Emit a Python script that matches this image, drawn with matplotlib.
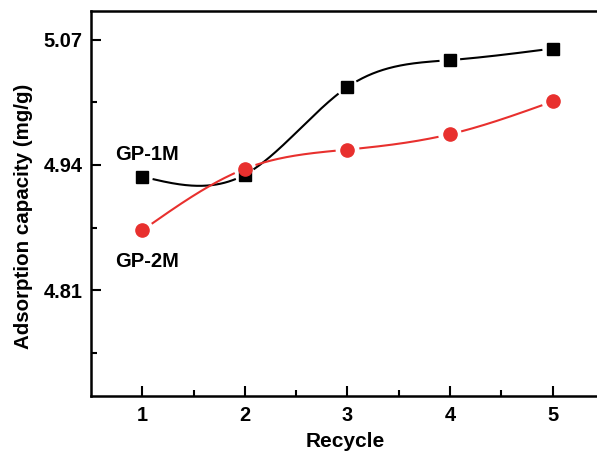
import numpy as np
import matplotlib
matplotlib.use("Agg")
import matplotlib.pyplot as plt

# Adsorption capacity per recycle run
recycle = [1, 2, 3, 4, 5]
gp_1m = [4.928, 4.930, 5.021, 5.049, 5.061]
gp_2m = [4.872, 4.936, 4.956, 4.972, 5.006]

plt.rcParams['font.family'] = ['Liberation Sans', 'DejaVu Sans']
plt.rcParams['font.weight'] = 'bold'


def natural_spline(x, y, n=400):
    # plain natural cubic spline, no scipy needed
    x = np.asarray(x, float)
    y = np.asarray(y, float)
    k = len(x)
    h = np.diff(x)
    A = np.zeros((k, k))
    b = np.zeros(k)
    A[0, 0] = A[-1, -1] = 1
    for i in range(1, k - 1):
        A[i, i - 1] = h[i - 1]
        A[i, i] = 2 * (h[i - 1] + h[i])
        A[i, i + 1] = h[i]
        b[i] = 6 * ((y[i + 1] - y[i]) / h[i] - (y[i] - y[i - 1]) / h[i - 1])
    M = np.linalg.solve(A, b)
    xs = np.linspace(x[0], x[-1], n)
    idx = np.clip(np.searchsorted(x, xs) - 1, 0, k - 2)
    x0, x1 = x[idx], x[idx + 1]
    hh = x1 - x0
    t0, t1 = x1 - xs, xs - x0
    ys = (M[idx] * t0 ** 3 + M[idx + 1] * t1 ** 3) / (6 * hh) \
        + (y[idx] / hh - M[idx] * hh / 6) * t0 \
        + (y[idx + 1] / hh - M[idx + 1] * hh / 6) * t1
    return xs, ys


def gapped(ax, xs, ys, px, py, radius):
    # break the curve near each marker, Origin style
    pts = ax.transData.transform(np.column_stack([xs, ys]))
    mk = ax.transData.transform(np.column_stack([px, py]))
    d = np.min(np.hypot(pts[:, None, 0] - mk[None, :, 0],
                        pts[:, None, 1] - mk[None, :, 1]), axis=1)
    ys = ys.copy()
    ys[d < radius] = np.nan
    return xs, ys


fig = plt.figure(figsize=(5.97, 4.54), dpi=100)
ax = fig.add_axes([0.1524, 0.1278, 0.8593, 0.848])
ax.set_xlim(0.5, 5.5)
ax.set_ylim(4.70, 5.10)

red = '#e8302e'
xs, ys = natural_spline(recycle, gp_1m)
xs, ys = gapped(ax, xs, ys, recycle, gp_1m, 11)
ax.plot(xs, ys, color='black', lw=1.5)
ax.plot(recycle, gp_1m, 's', color='black', ms=8, mec='black')

xs, ys = natural_spline(recycle, gp_2m)
xs, ys = gapped(ax, xs, ys, recycle, gp_2m, 12)
ax.plot(xs, ys, color=red, lw=1.5)
ax.plot(recycle, gp_2m, 'o', color=red, ms=9.5, mec=red)

ax.text(0.735, 4.9452, 'GP-1M', fontsize=14.5, fontweight='bold', va='baseline', ha='left')
ax.text(0.735, 4.8343, 'GP-2M', fontsize=14.5, fontweight='bold', va='baseline', ha='left')

ax.set_xticks(recycle)
ax.set_xticks([1.5, 2.5, 3.5, 4.5], minor=True)
ax.set_yticks([4.81, 4.94, 5.07])
ax.set_yticks([4.745, 4.875, 5.005], minor=True)
ax.set_yticklabels(['4.81', '4.94', '5.07'])

ax.tick_params(which='both', direction='in', width=1.5, labelsize=14.4,
               top=False, right=False)
ax.tick_params(which='major', length=7)
ax.tick_params(which='minor', length=4)
ax.tick_params(axis='x', pad=7)
ax.tick_params(axis='y', pad=6)
for s in ax.spines.values():
    s.set_linewidth(1.8)

# axis titles placed on the figure directly
fig.text(345 / 597, 1 - 447 / 454, 'Recycle', fontsize=15, fontweight='bold',
         ha='center', va='baseline')
fig.text(24 / 597, 1 - 216.5 / 454, 'Adsorption capacity (mg/g)', fontsize=14.8,
         fontweight='bold', rotation=90, ha='center', va='center')

fig.savefig('out.png', dpi=100)
